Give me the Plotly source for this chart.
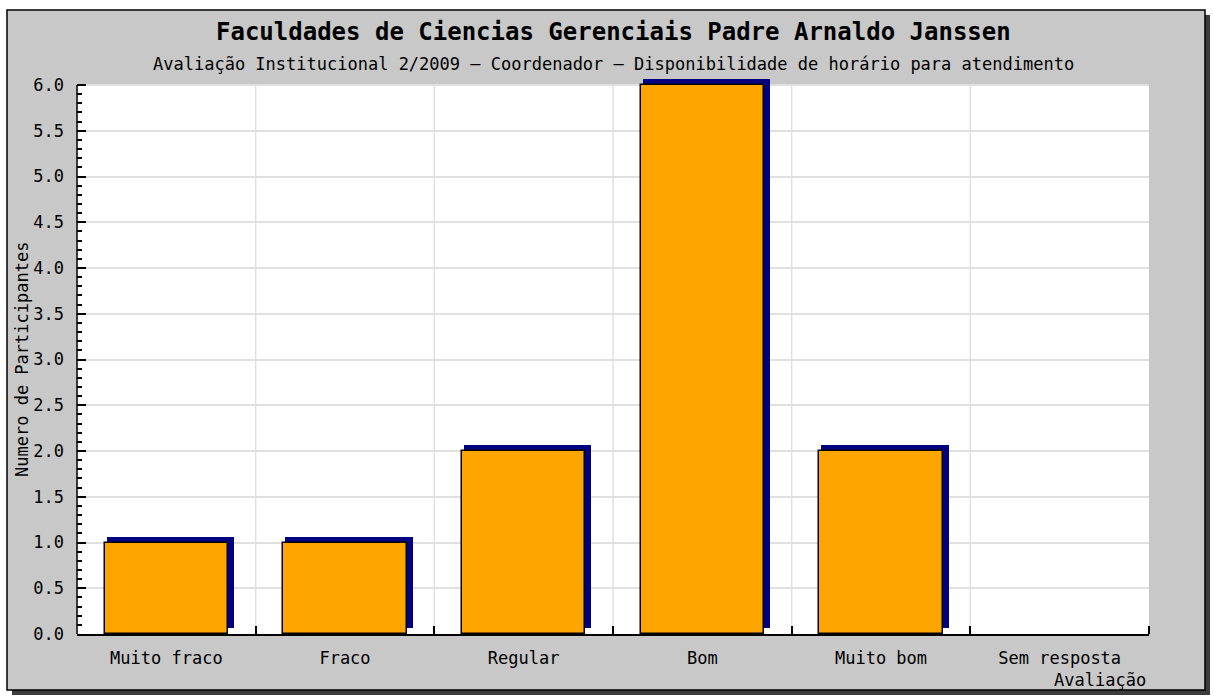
import plotly.graph_objects as go

# ---- data ----
categories = ["Muito fraco", "Fraco", "Regular", "Bom", "Muito bom", "Sem resposta"]
values = [1, 1, 2, 6, 2, 0]
y_ticks = [0.0, 0.5, 1.0, 1.5, 2.0, 2.5, 3.0, 3.5, 4.0, 4.5, 5.0, 5.5, 6.0]
title_text = "Faculdades de Ciencias Gerenciais Padre Arnaldo Janssen"
subtitle_text = "Avaliação Institucional 2/2009 – Coordenador – Disponibilidade de horário para atendimento"
y_title = "Numero de Participantes"
x_title = "Avaliação"

# ---- layout geometry ----
W, H = 1214, 696
YMAX = 6.0
TOP_PAD = 6                       # px of headroom above 6.0 for the 3D shadow
L, R, T, B = 77, 65, 85 - TOP_PAD, 62
PW, PH = W - L - R, H - T - B
UX = len(categories) / PW          # one pixel in x units
UY = YMAX / (PH - TOP_PAD)         # one pixel in y units
Y_TOP = YMAX + TOP_PAD * UY
positions = list(range(len(categories)))
bounds = [p + 0.5 for p in positions]

def px(xp):
    return (xp - L) / PW

def py(yp):
    return (H - B - yp) / PH

BAR_W = 0.69
FONT = "DejaVu Sans Mono"

fig = go.Figure()

# shadow bars (drawn behind)
fig.add_trace(go.Bar(
    x=positions,
    y=values,
    base=[6 * UY for _ in values],
    width=BAR_W + 4 * UX,
    offset=-BAR_W / 2 + 2 * UX,
    marker=dict(color="#000080", line=dict(width=0)),
    hoverinfo="skip",
    showlegend=False,
))
# main bars
fig.add_trace(go.Bar(
    x=positions,
    y=values,
    width=BAR_W,
    marker=dict(color="#ffa500",
                line=dict(color="black", width=[1.5 if v > 0 else 0 for v in values])),
    showlegend=False,
))

shapes = [
    # panel shadow
    dict(type="rect", xref="paper", yref="paper",
         x0=px(12), x1=px(1210), y0=py(15), y1=py(695),
         fillcolor="#3c3c3c", line=dict(width=0), layer="below"),
    # gray panel
    dict(type="rect", xref="paper", yref="paper",
         x0=px(7), x1=px(1205), y0=py(10), y1=py(690),
         fillcolor="#c8c8c8", line=dict(color="black", width=1.5), layer="below"),
    # white plot area (0 .. 6.0)
    dict(type="rect", xref="paper", yref="y",
         x0=0, x1=1, y0=0, y1=YMAX,
         fillcolor="white", line=dict(width=0), layer="below"),
]
# vertical grid lines at category boundaries
for b in bounds[:-1]:
    shapes.append(dict(type="line", xref="x", yref="y", x0=b, x1=b, y0=0, y1=YMAX,
                       line=dict(color="#e0e0e0", width=1.5), layer="below"))
# y axis line (0 .. 6.0)
shapes.append(dict(type="line", xref="paper", yref="y", x0=0, x1=0, y0=0, y1=YMAX,
                   line=dict(color="black", width=1.5), layer="above"))

annotations = [
    dict(text=title_text, xref="paper", yref="paper", x=0.5, y=py(32),
         xanchor="center", yanchor="middle", showarrow=False,
         font=dict(family=FONT, size=24, color="black", weight="bold")),
    dict(text=subtitle_text, xref="paper", yref="paper", x=0.5, y=py(64),
         xanchor="center", yanchor="middle", showarrow=False,
         font=dict(family=FONT, size=17, color="black")),
    dict(text=y_title, xref="paper", yref="paper", x=px(22), y=py(360),
         xanchor="center", yanchor="middle", showarrow=False, textangle=-90,
         font=dict(family=FONT, size=17, color="black")),
    dict(text=x_title, xref="paper", yref="paper", x=px(1148), y=py(680),
         xanchor="right", yanchor="middle", showarrow=False,
         font=dict(family=FONT, size=17, color="black")),
]

fig.update_layout(
    width=W, height=H,
    margin=dict(l=L, r=R, t=T, b=B),
    paper_bgcolor="white",
    plot_bgcolor="rgba(0,0,0,0)",
    barmode="overlay",
    bargap=0,
    shapes=shapes,
    annotations=annotations,
    font=dict(family=FONT, size=17, color="black"),
    xaxis=dict(
        range=[-0.5, len(categories) - 0.5],
        tickvals=positions, ticktext=categories,
        ticks="", showgrid=False, zeroline=False,
        showline=True, linecolor="black", linewidth=1.5,
        ticklabelstandoff=8,
        tickfont=dict(family=FONT, size=17, color="black"),
        minor=dict(tickvals=bounds,
                   ticks="inside", ticklen=8, tickcolor="black", tickwidth=1.5,
                   showgrid=False),
        fixedrange=True,
    ),
    yaxis=dict(
        range=[0, Y_TOP],
        tickvals=y_ticks, ticktext=[f"{v:.1f}" for v in y_ticks],
        ticks="inside", ticklen=9, tickcolor="black", tickwidth=1.5,
        showgrid=True, gridcolor="#e0e0e0", gridwidth=1.5,
        zeroline=False, showline=False,
        ticklabelstandoff=12,
        tickfont=dict(family=FONT, size=17, color="black"),
        minor=dict(tickvals=[round(i * 0.1, 1) for i in range(61)],
                   ticks="inside", ticklen=5, tickcolor="black",
                   tickwidth=1.5, showgrid=False),
        fixedrange=True,
    ),
)

fig.write_html("out.html", config={"displayModeBar": False},
               post_script="document.body.style.margin='0';document.body.style.overflow='hidden';")
